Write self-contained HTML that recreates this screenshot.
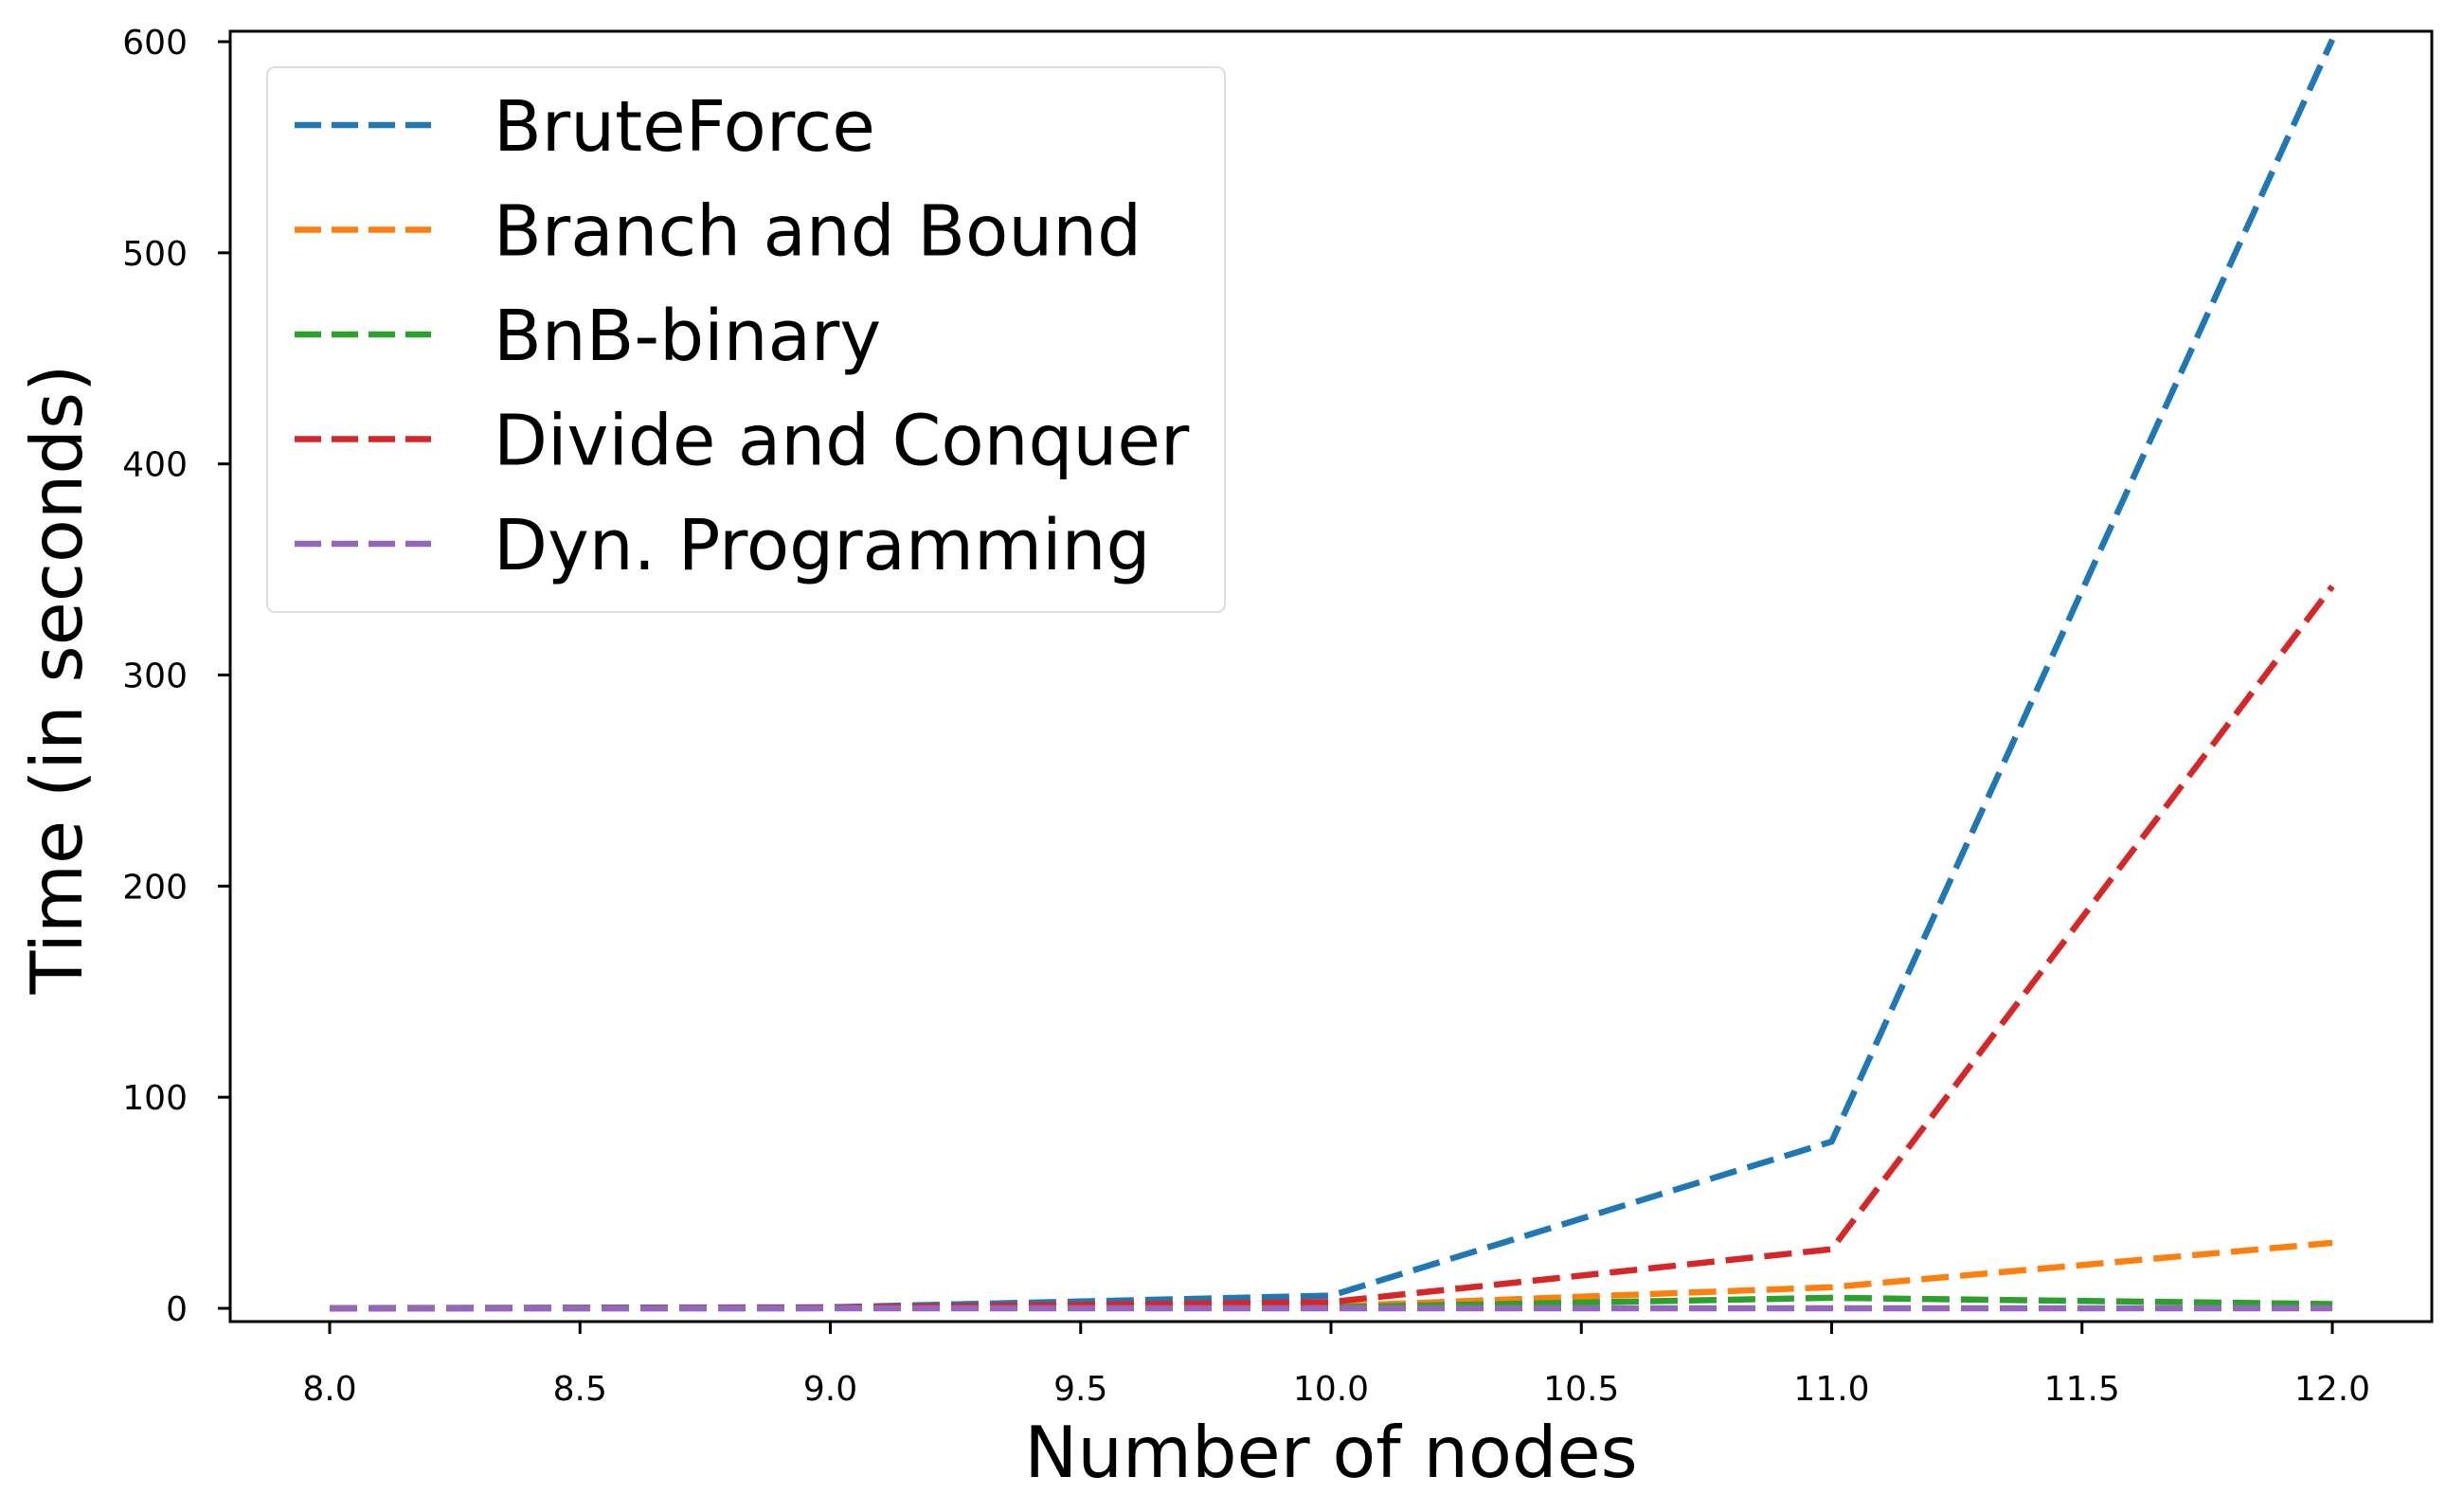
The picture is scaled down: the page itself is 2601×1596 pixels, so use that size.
<!DOCTYPE html>
<html><head><meta charset="utf-8"><style>
body{margin:0;background:#fff;}
svg{display:block;font-family:"DejaVu Sans","Liberation Sans",sans-serif;}
</style></head><body>
<svg id="chart" width="2601" height="1596" viewBox="0 0 2601 1596" xmlns="http://www.w3.org/2000/svg">
<rect width="2601" height="1596" fill="#fff"/>
<g id="series"></g>
<g id="axes"></g>
<g id="legend"></g>
<text x="1405" y="1559" font-size="75" text-anchor="middle">Number of nodes</text>
<text transform="translate(86,717) rotate(-90)" font-size="75" text-anchor="middle">Time (in seconds)</text>
</svg>
<script>
const categories = [8, 9, 10, 11, 12];
const seriesNames = ["BruteForce", "Branch and Bound", "BnB-binary", "Divide and Conquer", "Dyn. Programming"];
const bruteForce = [0.1, 0.5, 6, 79, 601];
const branchAndBound = [0, 0.1, 1, 10, 31];
const bnbBinary = [0, 0.1, 0.5, 5, 2];
const divideAndConquer = [0, 0.3, 3, 28, 342];
const dynProgramming = [0, 0, 0, 0, 0];
const xTicks = [8.0, 8.5, 9.0, 9.5, 10.0, 10.5, 11.0, 11.5, 12.0];
const yTicks = [0, 100, 200, 300, 400, 500, 600];

const NS = "http://www.w3.org/2000/svg";
const colors = ["#1f77b4", "#ff7f0e", "#2ca02c", "#d62728", "#9467bd"];
const allSeries = [bruteForce, branchAndBound, bnbBinary, divideAndConquer, dynProgramming];
const L = 243, R = 2567, T = 33, B = 1395;
function xs(v){ return 348 + (v - 8) * (2462 - 348) / 4; }
function ys(v){ return 1381 - v * (1381 - 44) / 600; }
function mk(tag, attrs, parent){ const e = document.createElementNS(NS, tag); for (const k in attrs) e.setAttribute(k, attrs[k]); parent.appendChild(e); return e; }

const gS = document.getElementById("series");
allSeries.forEach((vals, i) => {
  const d = vals.map((v, j) => (j ? "L" : "M") + xs(categories[j]).toFixed(1) + "," + ys(v).toFixed(1)).join(" ");
  const p = mk("path", {d: d, fill: "none", stroke: colors[i], "stroke-width": 6.5, "stroke-dasharray": "29 12"}, gS);
  
  
});

const gA = document.getElementById("axes");
const frame = mk("rect", {x: L, y: T, width: R - L, height: B - T, fill: "none", stroke: "#000", "stroke-width": 3}, gA);


xTicks.forEach(t => {
  const x = xs(t);
  const tk = mk("line", {x1: x, y1: B, x2: x, y2: B + 13, stroke: "#000", "stroke-width": 3}, gA);
  
  
  const lb = mk("text", {x: x, y: 1478, "font-size": 36, "text-anchor": "middle"}, gA);
  lb.textContent = t.toFixed(1);
  
  
});
yTicks.forEach(t => {
  const y = ys(t);
  const tk = mk("line", {x1: L - 13, y1: y, x2: L, y2: y, stroke: "#000", "stroke-width": 3}, gA);
  
  
  const lb = mk("text", {x: 198, y: y + 13, "font-size": 36, "text-anchor": "end"}, gA);
  lb.textContent = t;
  
  
});

const gL = document.getElementById("legend");


mk("rect", {x: 282, y: 71, width: 1011, height: 575, rx: 8, fill: "#fff", "fill-opacity": 0.8, stroke: "#ddd", "stroke-width": 2}, gL);
seriesNames.forEach((n, i) => {
  const y = 132 + i * 110.5;
  const g = mk("g", {}, gL);
  
  
  mk("line", {x1: 311, y1: y, x2: 455, y2: y, stroke: colors[i], "stroke-width": 6.5, "stroke-dasharray": "28 11"}, g);
  const t = mk("text", {x: 521, y: y + 27, "font-size": 74}, g);
  t.textContent = n;
});
</script>
</body></html>
